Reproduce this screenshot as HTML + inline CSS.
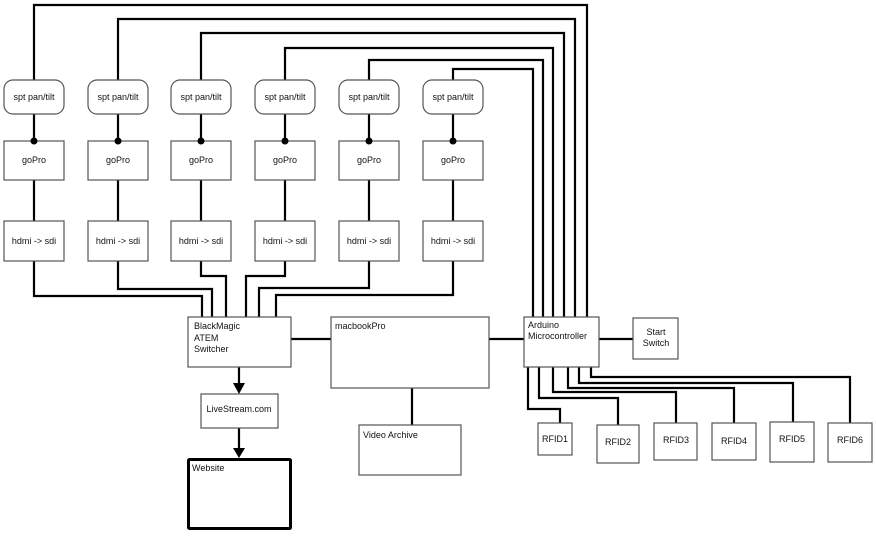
<!DOCTYPE html>
<html><head><meta charset="utf-8"><style>
html,body{margin:0;padding:0;background:#fff;}
svg{display:block;}
text{font-family:"Liberation Sans",sans-serif;font-size:9px;fill:#111;}
.b{fill:#fff;stroke:#555;stroke-width:1.2;}
.l{fill:none;stroke:#000;stroke-width:2.2;}
</style></head><body>
<svg width="876" height="537" viewBox="0 0 876 537" xmlns="http://www.w3.org/2000/svg">
<path class="l" d="M34 80V5H587V317"/>
<path class="l" d="M118 80V19H575V317"/>
<path class="l" d="M201 80V33H564V317"/>
<path class="l" d="M285 80V48H553V317"/>
<path class="l" d="M369 80V60H543V317"/>
<path class="l" d="M453 80V69H533V317"/>
<g class="l">
<path d="M34 114V141M34 180V221"/><path d="M118 114V141M118 180V221"/><path d="M201 114V141M201 180V221"/>
<path d="M285 114V141M285 180V221"/><path d="M369 114V141M369 180V221"/><path d="M453 114V141M453 180V221"/>
</g>
<path class="l" d="M34 261V296H202V317"/>
<path class="l" d="M118 261V289H212V317"/>
<path class="l" d="M201 261V276H226V317"/>
<path class="l" d="M285 261V276H246V317"/>
<path class="l" d="M369 261V288H259V317"/>
<path class="l" d="M453 261V295H276V317"/>
<g>
<rect class="b" x="4" y="80" width="60" height="34" rx="9"/><text x="34" y="100" text-anchor="middle">spt pan/tilt</text>
<rect class="b" x="88" y="80" width="60" height="34" rx="9"/><text x="118" y="100" text-anchor="middle">spt pan/tilt</text>
<rect class="b" x="171" y="80" width="60" height="34" rx="9"/><text x="201" y="100" text-anchor="middle">spt pan/tilt</text>
<rect class="b" x="255" y="80" width="60" height="34" rx="9"/><text x="285" y="100" text-anchor="middle">spt pan/tilt</text>
<rect class="b" x="339" y="80" width="60" height="34" rx="9"/><text x="369" y="100" text-anchor="middle">spt pan/tilt</text>
<rect class="b" x="423" y="80" width="60" height="34" rx="9"/><text x="453" y="100" text-anchor="middle">spt pan/tilt</text>
</g>
<g>
<rect class="b" x="4" y="141" width="60" height="39"/><text x="34" y="163" text-anchor="middle">goPro</text>
<rect class="b" x="88" y="141" width="60" height="39"/><text x="118" y="163" text-anchor="middle">goPro</text>
<rect class="b" x="171" y="141" width="60" height="39"/><text x="201" y="163" text-anchor="middle">goPro</text>
<rect class="b" x="255" y="141" width="60" height="39"/><text x="285" y="163" text-anchor="middle">goPro</text>
<rect class="b" x="339" y="141" width="60" height="39"/><text x="369" y="163" text-anchor="middle">goPro</text>
<rect class="b" x="423" y="141" width="60" height="39"/><text x="453" y="163" text-anchor="middle">goPro</text>
</g>
<g fill="#000"><circle cx="34" cy="141" r="3.5"/><circle cx="118" cy="141" r="3.5"/><circle cx="201" cy="141" r="3.5"/><circle cx="285" cy="141" r="3.5"/><circle cx="369" cy="141" r="3.5"/><circle cx="453" cy="141" r="3.5"/></g>
<g>
<rect class="b" x="4" y="221" width="60" height="40"/><text x="34" y="244" text-anchor="middle">hdmi -&gt; sdi</text>
<rect class="b" x="88" y="221" width="60" height="40"/><text x="118" y="244" text-anchor="middle">hdmi -&gt; sdi</text>
<rect class="b" x="171" y="221" width="60" height="40"/><text x="201" y="244" text-anchor="middle">hdmi -&gt; sdi</text>
<rect class="b" x="255" y="221" width="60" height="40"/><text x="285" y="244" text-anchor="middle">hdmi -&gt; sdi</text>
<rect class="b" x="339" y="221" width="60" height="40"/><text x="369" y="244" text-anchor="middle">hdmi -&gt; sdi</text>
<rect class="b" x="423" y="221" width="60" height="40"/><text x="453" y="244" text-anchor="middle">hdmi -&gt; sdi</text>
</g>
<path class="l" d="M291 339H331M489 339H524M599 339H633M412 388V425"/>
<path class="l" d="M239 367V385M239 428V450"/>
<path d="M233 383H245L239 394Z M233 448H245L239 458Z" fill="#000"/>
<path class="l" d="M528 367V409H560V423"/>
<path class="l" d="M539 367V398H618V425"/>
<path class="l" d="M553 367V392H676V423"/>
<path class="l" d="M568 367V388H734V423"/>
<path class="l" d="M579 367V383H793V422"/>
<path class="l" d="M591 367V377H850V423"/>
<rect class="b" x="188" y="317" width="103" height="50"/>
<text x="194" y="329">BlackMagic</text><text x="194" y="341">ATEM</text><text x="194" y="352">Switcher</text>
<rect class="b" x="331" y="317" width="158" height="71"/><text x="335" y="329">macbookPro</text>
<rect class="b" x="524" y="317" width="75" height="50"/>
<text x="528" y="328">Arduino</text><text x="528" y="339">Microcontroller</text>
<rect class="b" x="633" y="318" width="45" height="41"/>
<text x="656" y="335" text-anchor="middle">Start</text><text x="656" y="346" text-anchor="middle">Switch</text>
<rect class="b" x="201" y="394" width="77" height="34"/><text x="239" y="412" text-anchor="middle">LiveStream.com</text>
<rect x="188.5" y="459.5" width="102" height="69" fill="#fff" stroke="#000" stroke-width="3" rx="1"/><text x="192" y="471">Website</text>
<rect class="b" x="359" y="425" width="102" height="50"/><text x="363" y="438">Video Archive</text>
<rect class="b" x="538" y="423" width="34" height="32"/><text x="555" y="442" text-anchor="middle">RFID1</text>
<rect class="b" x="597" y="425" width="42" height="38"/><text x="618" y="445" text-anchor="middle">RFID2</text>
<rect class="b" x="654" y="423" width="43" height="37"/><text x="676" y="443" text-anchor="middle">RFID3</text>
<rect class="b" x="712" y="423" width="44" height="37"/><text x="734" y="444" text-anchor="middle">RFID4</text>
<rect class="b" x="770" y="422" width="44" height="40"/><text x="792" y="442" text-anchor="middle">RFID5</text>
<rect class="b" x="828" y="423" width="44" height="39"/><text x="850" y="443" text-anchor="middle">RFID6</text>
</svg>
</body></html>
